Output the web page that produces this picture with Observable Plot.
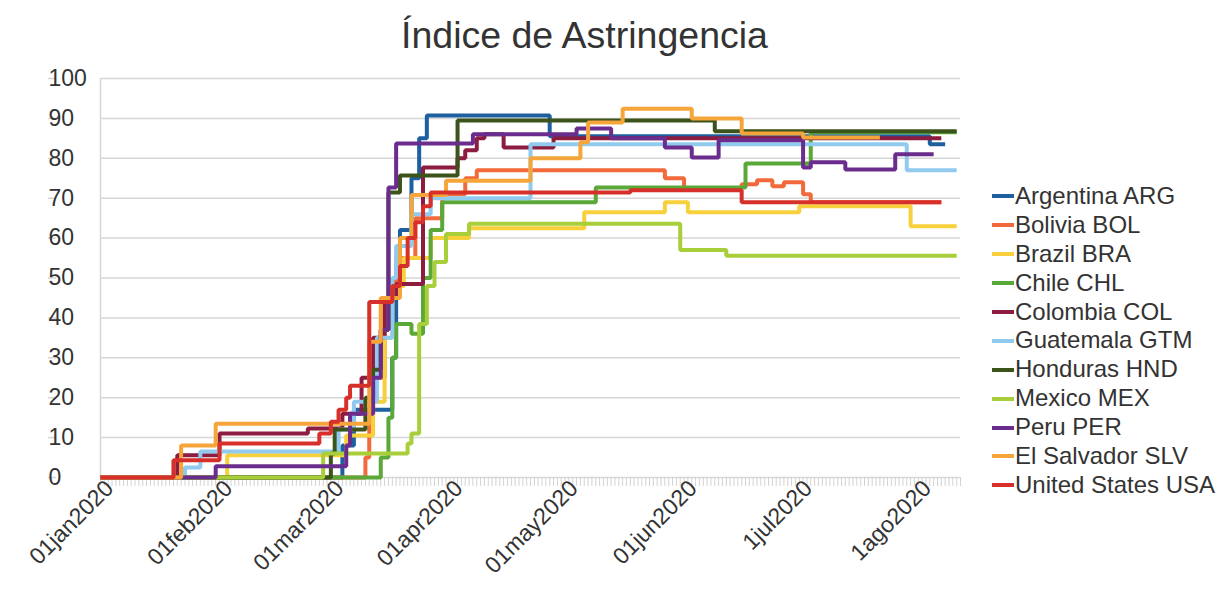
<!DOCTYPE html>
<html>
<head>
<meta charset="utf-8">
<script src="https://cdn.jsdelivr.net/npm/d3@7"></script>
<script src="https://cdn.jsdelivr.net/npm/@observablehq/plot@0.6"></script>
<style>
  html, body { margin: 0; padding: 0; background: #fff; }
  body { width: 1225px; height: 598px; position: relative; overflow: hidden; font-family: "Liberation Sans", Arial, sans-serif; color: #333; }
  #title { position: absolute; left: 0; top: 0; width: 1169px; height: 60px; text-align: center; font-size: 37.5px; line-height: 70px; color: #333; white-space: nowrap; }
  #chart { position: absolute; left: 0; top: 60px; }
  #legend { position: absolute; left: 992px; top: 182px; font-size: 24px; color: #333; }
  .item { height: 28.9px; line-height: 28.9px; white-space: nowrap; display: flex; align-items: center; }
  .sw { width: 22px; height: 4px; margin-right: 1px; }
</style>
</head>
<body>
<div id="title">Índice de Astringencia</div>
<div id="chart"></div>
<div id="legend"></div>
<script>
const countries = ["Argentina ARG","Bolivia BOL","Brazil BRA","Chile CHL","Colombia COL","Guatemala GTM","Honduras HND","Mexico MEX","Peru PER","El Salvador SLV","United States USA"];
const colors = ["#1d5f9f","#f26a3b","#f7d03c","#5aa838","#8c1c40","#90cbef","#3c531c","#a8ce3a","#6a2d8e","#f6a53a","#d7302a"];

const ARG = [["2020-01-01",0],["2020-03-04",8],["2020-03-07",17],["2020-03-17",30],["2020-03-18",50],["2020-03-19",62],["2020-03-22",75],["2020-03-24",85],["2020-03-26",90.7],["2020-04-27",85.5],["2020-08-04",83.5],["2020-08-08",83.5]];
const BOL = [["2020-01-01",0],["2020-03-10",5],["2020-03-11",15],["2020-03-12",25],["2020-03-15",45],["2020-03-18",55],["2020-03-23",65],["2020-03-30",71],["2020-04-05",75],["2020-04-08",77],["2020-05-27",75],["2020-06-01",72.5],["2020-06-16",73.5],["2020-06-20",74.5],["2020-06-24",73],["2020-06-27",74],["2020-07-02",71],["2020-07-04",69],["2020-08-07",69]];
const BRA = [["2020-01-01",0],["2020-02-03",5.6],["2020-03-05",10.5],["2020-03-12",19],["2020-03-15",35],["2020-03-17",48],["2020-03-20",55],["2020-03-27",60],["2020-04-06",62.5],["2020-05-06",66.5],["2020-05-27",69],["2020-06-02",66.5],["2020-07-01",68],["2020-07-30",63],["2020-08-11",63]];
const CHL = [["2020-01-01",0],["2020-03-14",5],["2020-03-16",15],["2020-03-17",30],["2020-03-18",38.5],["2020-03-22",36],["2020-03-25",50],["2020-03-27",62],["2020-03-30",69],["2020-05-09",72.7],["2020-06-17",78.7],["2020-07-04",86.5],["2020-08-11",86.5]];
const COL = [["2020-01-01",0],["2020-01-21",5.6],["2020-02-01",11],["2020-02-24",12.3],["2020-03-04",16],["2020-03-09",25],["2020-03-12",35],["2020-03-15",45],["2020-03-18",48.5],["2020-03-25",77.7],["2020-04-03",80],["2020-04-05",82],["2020-04-08",85],["2020-04-10",86],["2020-04-15",82.7],["2020-04-28",85],["2020-08-07",85]];
const GTM = [["2020-01-01",0],["2020-01-23",2.5],["2020-01-27",6.5],["2020-03-03",12],["2020-03-07",19],["2020-03-13",35],["2020-03-17",50],["2020-03-18",58],["2020-03-22",66],["2020-03-27",70],["2020-04-22",83.5],["2020-07-29",77],["2020-08-11",77]];
const HND = [["2020-01-01",0],["2020-03-01",6],["2020-03-02",12],["2020-03-10",20],["2020-03-12",27],["2020-03-14",37],["2020-03-16",71.4],["2020-03-19",75.7],["2020-04-03",89.5],["2020-06-09",86.8],["2020-08-11",86.8]];
const MEX = [["2020-01-01",0],["2020-02-28",6],["2020-03-21",8.5],["2020-03-22",11],["2020-03-24",38.5],["2020-03-26",48],["2020-03-28",54],["2020-03-31",61],["2020-04-06",63.6],["2020-05-31",57],["2020-06-12",55.6],["2020-08-11",55.6]];
const PER = [["2020-01-01",0],["2020-01-31",2.8],["2020-03-05",8],["2020-03-06",16],["2020-03-12",25],["2020-03-14",37],["2020-03-16",72.7],["2020-03-18",83.7],["2020-04-07",86],["2020-05-04",87.5],["2020-05-13",85],["2020-05-27",82.7],["2020-06-03",80.2],["2020-06-10",84.5],["2020-07-02",77.7],["2020-07-04",79],["2020-07-13",77.2],["2020-07-26",81],["2020-08-05",81]];
const SLV = [["2020-01-01",0],["2020-01-22",8],["2020-01-31",13.5],["2020-03-11",34],["2020-03-14",45],["2020-03-19",60],["2020-03-22",70.8],["2020-03-31",74.4],["2020-04-22",80],["2020-05-05",84],["2020-05-07",89],["2020-05-16",92.4],["2020-06-03",90],["2020-06-16",86.2],["2020-07-02",85.2],["2020-07-22",85.2]];
const USA = [["2020-01-01",0],["2020-01-20",4.3],["2020-02-01",8.5],["2020-02-27",11],["2020-03-01",14],["2020-03-03",17],["2020-03-05",20],["2020-03-06",23],["2020-03-11",44],["2020-03-17",48],["2020-03-19",53],["2020-03-21",60],["2020-03-23",64],["2020-03-25",68],["2020-03-27",71.4],["2020-05-18",72],["2020-06-16",69],["2020-08-07",69]];

const seriesValues = [ARG, BOL, BRA, CHL, COL, GTM, HND, MEX, PER, SLV, USA];
const monthTicks = ["2020-01-01","2020-02-01","2020-03-01","2020-04-01","2020-05-01","2020-06-01","2020-07-01","2020-08-01"];
const monthLabels = ["01jan2020","01feb2020","01mar2020","01apr2020","01may2020","01jun2020","1jul2020","1ago2020"];
const yTicks = [0,10,20,30,40,50,60,70,80,90,100];
const xDomain = ["2020-01-01","2020-08-12"];

const parse = d3.isoParse;
const rows = seriesValues.flatMap((s, i) => s.map(([d, v]) => ({country: countries[i], date: parse(d), value: v})));
const tickDates = monthTicks.map(parse);

const chart = Plot.plot({
  width: 1225,
  height: 538,
  marginLeft: 100,
  marginRight: 265,
  marginTop: 18,
  marginBottom: 121,
  style: {fontFamily: "'Liberation Sans', Arial, sans-serif", color: "#333", background: "#fff"},
  x: {type: "utc", domain: xDomain.map(parse)},
  y: {domain: [0, 100]},
  color: {domain: countries, range: colors},
  marks: [
    Plot.gridY(yTicks, {stroke: "#d6d6d6", strokeOpacity: 1, strokeWidth: 1.5}),
    Plot.axisY(yTicks, {anchor: "left", tickSize: 8, tickPadding: 0, textAnchor: "start", dx: -44, fontSize: 23, stroke: "#d6d6d6", strokeWidth: 1.5, fill: "#333", label: null}),
    Plot.ruleX([parse(xDomain[0])], {stroke: "#d6d6d6", strokeWidth: 1.5}),
    Plot.axisX({ticks: "day", tickSize: 9, tickFormat: () => "", stroke: "#d3d3d3", strokeWidth: 1, label: null}),
    Plot.axisX(tickDates, {tickSize: 0, tickPadding: 12, tickRotate: -45, tickFormat: (d, i) => monthLabels[i], fontSize: 23, dx: 9, dy: -5, fill: "#333", label: null}),
    Plot.line(rows, {x: "date", y: "value", z: "country", stroke: "country", curve: "step-after", strokeWidth: 4, strokeLinejoin: "miter", strokeLinecap: "butt"})
  ]
});
document.getElementById("chart").appendChild(chart);

const legend = document.getElementById("legend");
countries.forEach((c, i) => {
  const item = document.createElement("div");
  item.className = "item";
  const sw = document.createElement("span");
  sw.className = "sw";
  sw.style.background = colors[i];
  item.appendChild(sw);
  item.appendChild(document.createTextNode(c));
  legend.appendChild(item);
});
</script>
</body>
</html>
